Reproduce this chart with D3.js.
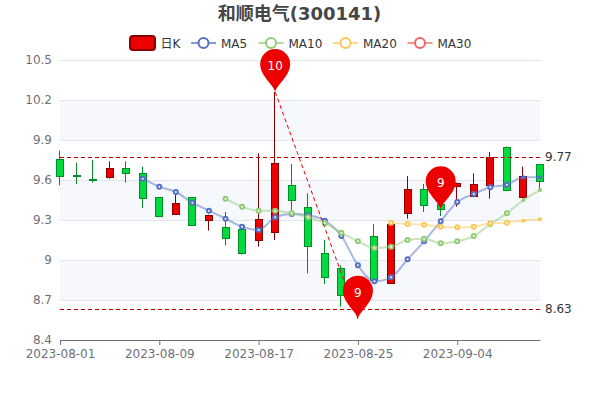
<!DOCTYPE html>
<html>
<head>
<meta charset="utf-8">
<style>
  html, body { margin: 0; padding: 0; background: #fff; }
  svg, svg text { font-family: "DejaVu Sans", "Noto Sans CJK SC", sans-serif; }
  svg { display: block; }
</style>
<script src="https://cdn.jsdelivr.net/npm/d3@7"></script>
</head>
<body>
<div id="chart"></div>
<script>
// Data
const dates = ["2023-08-01","2023-08-02","2023-08-03","2023-08-04","2023-08-07","2023-08-08",
    "2023-08-09","2023-08-10","2023-08-11","2023-08-14","2023-08-15","2023-08-16",
    "2023-08-17","2023-08-18","2023-08-21","2023-08-22","2023-08-23","2023-08-24",
    "2023-08-25","2023-08-28","2023-08-29","2023-08-30","2023-08-31","2023-09-01",
    "2023-09-04","2023-09-05","2023-09-06","2023-09-07","2023-09-08","2023-09-11"];
const open = [9.76,9.64,9.61,9.62,9.69,9.65,9.47,9.35,9.47,9.30,9.25,9.23,9.15,9.21,9.56,
    9.40,9.05,8.94,8.78,9.18,8.83,9.35,9.53,9.42,9.56,9.48,9.56,9.85,9.47,9.72];
const close = [9.63,9.63,9.60,9.69,9.65,9.46,9.33,9.43,9.26,9.34,9.17,9.05,9.31,9.73,9.45,
    9.11,8.87,8.74,8.63,8.85,9.27,9.53,9.41,9.38,9.58,9.57,9.77,9.53,9.63,9.59];
const high = [9.82,9.73,9.75,9.74,9.74,9.70,9.47,9.49,9.47,9.34,9.36,9.24,9.80,10.26,9.72,
    9.50,9.15,8.96,8.80,9.27,9.27,9.63,9.57,9.49,9.58,9.65,9.81,9.85,9.70,9.72];
const low = [9.56,9.57,9.58,9.61,9.58,9.39,9.32,9.35,9.26,9.22,9.11,9.04,9.10,9.15,9.35,
    8.90,8.82,8.65,8.56,8.82,8.83,9.31,9.36,9.33,9.40,9.47,9.46,9.52,9.47,9.53];

const _ = null;
const ma5 = [_,_,_,_,_,9.61,9.55,9.51,9.43,9.37,9.31,9.25,9.225,9.32,9.345,9.335,9.295,9.18,
    8.96,8.84,8.87,9.005,9.14,9.29,9.435,9.495,9.545,9.565,9.62,9.62];
const ma10 = [_,_,_,_,_,_,_,_,_,_,9.46,9.40,9.37,9.37,9.35,9.32,9.275,9.205,9.14,9.09,
    9.10,9.15,9.16,9.125,9.14,9.18,9.27,9.35,9.45,9.525];
const ma20 = [_,_,_,_,_,_,_,_,_,_,_,_,_,_,_,_,_,_,_,_,
    9.28,9.27,9.265,9.25,9.245,9.25,9.275,9.28,9.295,9.305];
const ma30 = [];

const yTicks = [8.4, 8.7, 9, 9.3, 9.6, 9.9, 10.2, 10.5];
const xTicks = ["2023-08-01","2023-08-09","2023-08-17","2023-08-25","2023-09-04"];
const refLines = [9.77, 8.63];
const pinDate = "2023-09-01", pinValue = 9.38; // the third pin, not a max or a min

const upColor = "#ec0000", upBorder = "#8a0000",
      downColor = "#00da3c", downBorder = "#008f28";

const width = 600, height = 400;

const svg = d3.select("#chart").append("svg")
    .attr("width", width)
    .attr("height", height);

const x = d3.scalePoint().domain(dates).range([60, 540]);
const y = d3.scaleLinear().domain([8.4, 10.5]).range([340, 60]);

// Snap to the pixel grid so 1px strokes stay sharp
const crisp = v => Math.round(v) + 0.5;

// Title
svg.append("text")
    .attr("x", 299.5)
    .attr("y", 20)
    .attr("text-anchor", "middle")
    .style("font-size", "18px")
    .style("font-weight", "bold")
    .style("fill", "#464646")
    .text("和顺电气(300141)");

// Alternating bands, every second gap between ticks
d3.pairs(yTicks).forEach(([a, b], i) => {
    if (i % 2 === 1) {
        svg.append("rect")
            .attr("x", 60)
            .attr("y", y(b))
            .attr("width", 480)
            .attr("height", y(a) - y(b))
            .attr("fill", "#f6f8fc");
    }
});

// Grid lines
svg.append("g").selectAll("line")
    .data(yTicks.slice(1))
    .join("line")
    .attr("x1", 60)
    .attr("x2", 540)
    .attr("y1", d => y(d) + 0.5)
    .attr("y2", d => y(d) + 0.5)
    .attr("stroke", "#E0E6F1");

// Axes
const yAxis = svg.append("g")
    .attr("transform", "translate(60,0)")
    .call(d3.axisLeft(y).tickValues(yTicks).tickSize(0).tickPadding(8).tickFormat(d3.format("")));
yAxis.select(".domain").remove();
yAxis.selectAll("text").style("font-size", "12px").style("fill", "#6E7079");

const xAxis = svg.append("g")
    .attr("transform", "translate(0,340)")
    .call(d3.axisBottom(x).tickValues(xTicks).tickSizeOuter(0).tickSize(5).tickPadding(4));
xAxis.select(".domain").attr("stroke", "#6E7079").attr("d", "M60.5,0.5H540.5");
xAxis.selectAll("line").attr("stroke", "#6E7079");
xAxis.selectAll("text").style("font-size", "12px").style("fill", "#6E7079");

// Candles
const candles = svg.append("g").selectAll("g")
    .data(dates.map((d, i) => i))
    .join("g")
    .attr("stroke", i => close[i] >= open[i] ? upBorder : downBorder);

candles.append("line")
    .attr("x1", i => Math.round(x(dates[i])) - 0.5)
    .attr("x2", i => Math.round(x(dates[i])) - 0.5)
    .attr("y1", i => y(high[i]))
    .attr("y2", i => y(low[i]));

candles.append("rect")
    .attr("x", i => crisp(x(dates[i]) - 4))
    .attr("y", i => crisp(y(Math.max(open[i], close[i]))))
    .attr("width", 7)
    .attr("height", i => Math.max(1, Math.round(Math.abs(y(open[i]) - y(close[i])))))
    .attr("fill", i => close[i] >= open[i] ? upColor : downColor);

// Horizontal reference lines
refLines.forEach(v => {
    svg.append("line")
        .attr("x1", 60)
        .attr("x2", 540)
        .attr("y1", crisp(y(v)))
        .attr("y2", crisp(y(v)))
        .attr("stroke", "#c80000")
        .attr("stroke-dasharray", "4,3");

    svg.append("text")
        .attr("x", 545)
        .attr("y", y(v) + 4)
        .style("font-size", "12px")
        .style("fill", "#333")
        .text(v);
});

// Moving averages
const maSeries = [
    { name: "MA5", values: ma5, color: "#5470c6" },
    { name: "MA10", values: ma10, color: "#91cc75" },
    { name: "MA20", values: ma20, color: "#fac858" },
    { name: "MA30", values: ma30, color: "#ee6666" }
];

const line = d3.line()
    .defined(d => d !== null)
    .x((d, i) => x(dates[i]))
    .y(d => y(d))
    .curve(d3.curveMonotoneX);

maSeries.forEach(s => {
    svg.append("path")
        .attr("d", line(s.values))
        .attr("fill", "none")
        .attr("stroke", s.color)
        .attr("stroke-width", 2)
        .attr("stroke-opacity", 0.5);

    const pts = s.values.map((v, i) => ({ v, i })).filter(p => p.v !== null);
    svg.append("g").selectAll("circle")
        .data(pts)
        .join("circle")
        .attr("cx", p => x(dates[p.i]))
        .attr("cy", p => y(p.v))
        .attr("r", 2)
        .attr("fill", p => p.i >= 28 ? s.color : "#fff") // last two dots look solid
        .attr("stroke", s.color)
        .attr("stroke-width", p => p.i >= 28 ? 0 : 2);
});

// Max to min dashed line
const maxIdx = d3.maxIndex(high), minIdx = d3.minIndex(low);
svg.append("line")
    .attr("x1", x(dates[maxIdx]))
    .attr("y1", y(high[maxIdx]))
    .attr("x2", x(dates[minIdx]))
    .attr("y2", y(low[minIdx]))
    .attr("stroke", "#ec0000")
    .attr("stroke-dasharray", "4,3");

// Pins
const pinPath = "M0,0C-1.5,-7 -15,-16 -15,-28A15,15 0 1 1 15,-28C15,-16 1.5,-7 0,0Z";
const pins = [
    { date: dates[maxIdx], value: high[maxIdx] },
    { date: dates[minIdx], value: low[minIdx] },
    { date: pinDate, value: pinValue }
];
const pin = svg.append("g").selectAll("g")
    .data(pins)
    .join("g")
    .attr("transform", d => `translate(${x(d.date)},${y(d.value)})`);
pin.append("path")
    .attr("d", pinPath)
    .attr("fill", "#ec0000");
pin.append("text")
    .attr("y", -22)
    .attr("text-anchor", "middle")
    .style("font-size", "12px")
    .style("fill", "#fff")
    .text(d => Math.round(d.value));

// Legend
const legend = svg.append("g");
legend.append("rect")
    .attr("x", 130)
    .attr("y", 36)
    .attr("width", 25)
    .attr("height", 14)
    .attr("rx", 3)
    .attr("fill", upColor)
    .attr("stroke", upBorder)
    .attr("stroke-width", 2);
legend.append("text")
    .attr("x", 160.5)
    .attr("y", 47.5)
    .style("font-size", "12px")
    .style("fill", "#333")
    .text("日K");

const legendX = [191, 258.5, 333, 407.5];
maSeries.forEach((s, i) => {
    const lx = legendX[i];
    legend.append("line")
        .attr("x1", lx)
        .attr("x2", lx + 25)
        .attr("y1", 43)
        .attr("y2", 43)
        .attr("stroke", s.color)
        .attr("stroke-width", 2)
        .attr("stroke-opacity", 0.7);
    legend.append("circle")
        .attr("cx", lx + 12.5)
        .attr("cy", 43)
        .attr("r", 5)
        .attr("fill", "#fff")
        .attr("stroke", s.color)
        .attr("stroke-width", 2);
    legend.append("text")
        .attr("x", lx + 30)
        .attr("y", 47.5)
        .style("font-size", "12px")
        .style("fill", "#333")
        .text(s.name);
});
</script>
</body>
</html>
